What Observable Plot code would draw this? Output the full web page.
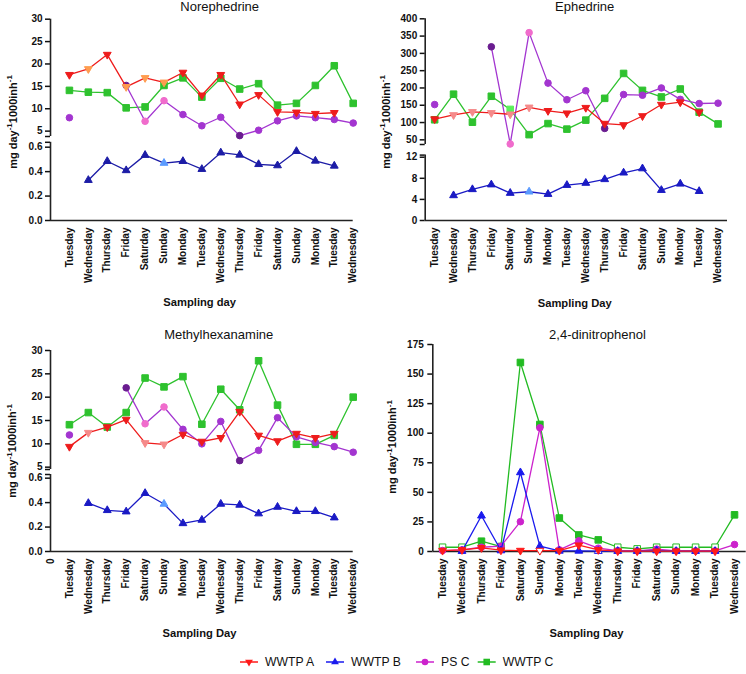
<!DOCTYPE html>
<html><head><meta charset="utf-8">
<script src="https://cdn.jsdelivr.net/npm/d3@7"></script>
<script src="https://cdn.jsdelivr.net/npm/@observablehq/plot@0.6"></script>
<style>
body{margin:0;background:#fff;}
#fig{position:relative;width:746px;height:674px;overflow:hidden;background:#fff;}
#fig svg{position:absolute;left:0;top:0;}
</style></head><body><div id="fig"></div>
<script>
const N = null;
const days = ["Tuesday","Wednesday","Thursday","Friday","Saturday","Sunday","Monday","Tuesday","Wednesday","Thursday","Friday","Saturday","Sunday","Monday","Tuesday","Wednesday"];
const seriesNames = ["WWTP A","WWTP B","PS C","WWTP C"];

// Norephedrine (mg day-1 1000inh-1)
const nor_A   = [17.6,18.9,22.1,14.9,16.9,15.9,18.1,13.0,17.6,11.0,13.1,9.3,9.2,8.9,9.1,N];
const nor_B   = [N,0.33,0.485,0.41,0.535,0.47,0.485,0.42,0.555,0.537,0.46,0.45,0.567,0.488,0.447,N];
const nor_PSC = [8.0,N,N,15.2,7.2,11.8,8.7,6.2,8.1,4.0,5.2,7.3,8.4,8.0,7.6,6.8];
const nor_C   = [14.1,13.7,13.6,10.2,10.4,15.2,16.9,12.6,16.8,14.4,15.6,10.8,11.2,15.2,19.6,11.2];
const nor_topTicks = [5,10,15,20,25,30];
const nor_botTicks = [0,0.2,0.4,0.6];

// Ephedrine
const eph_A   = [110,122,131,128,124,144,134,127,143,97,93,119,152,159,130,N];
const eph_B   = [N,4.75,5.9,6.8,5.2,5.45,5.0,6.7,7.1,7.8,9.05,9.85,5.75,6.95,5.55,N];
const eph_PSC = [152,N,N,319,38,360,214,166,192,83,181,179,200,167,155,156];
const eph_C   = [108,182,101,176,138,65,97,81,107,170,242,193,174,197,130,96];
const eph_topTicks = [50,100,150,200,250,300,350,400];
const eph_botTicks = [0,4,8,12];

// Methylhexanamine
const mhx_A   = [9.4,12.4,13.6,15.2,10.2,9.9,12.0,10.5,11.3,16.9,11.8,10.6,12.2,11.3,12.2,N];
const mhx_B   = [N,0.395,0.337,0.326,0.477,0.389,0.23,0.258,0.389,0.381,0.31,0.364,0.329,0.329,0.277,N];
const mhx_PSC = [11.9,N,N,22.0,14.3,17.9,13.1,10.0,14.8,6.4,8.6,15.6,11.5,10.3,9.4,8.2];
const mhx_C   = [14.1,16.7,13.6,16.7,24.1,22.2,24.4,14.2,21.7,17.3,27.8,18.3,9.9,9.9,11.8,20.0];
const mhx_topTicks = [5,10,15,20,25,30];
const mhx_botTicks = [0,0.2,0.4,0.6];

// 2,4-dinitrophenol
const dnp_A   = [0.8,1.4,3.1,1.1,0.8,0.8,0.8,5.3,1.4,0.3,0.3,0.3,0.3,0.3,0.3,N];
const dnp_B   = [N,0.3,30.2,0.8,66.8,4.5,0.5,0.5,0.3,0.3,0.3,0.8,0.3,0.3,0.3,N];
const dnp_PSC = [0.8,1.4,3.6,4.5,25.2,104.6,1.4,9.0,2.8,0.8,0.5,2.0,0.5,0.5,0.5,5.9];
const dnp_C   = [3.6,3.6,8.7,4.2,159.8,107.4,28.3,14.0,9.8,3.6,2.2,3.6,3.6,3.6,3.6,31.0];
const dnp_ticks = [0,25,50,75,100,125,150,175];

// ---------- styling / layout ----------
const W = 746, H = 674;
const FONT = '"Liberation Sans", Arial, Helvetica, sans-serif';
const AX = "#222";
const COL = {A:"#ee1c1c", B:"#1a1ac4", P:"#a335d0", C:"#2ec22e"};
const SYM = {A:"triangle", B:"triangle", P:"circle", C:"square"};
const R = {A:2.9, B:2.9, P:3.3, C:3.7};
const ORANGE="#ff9c50", SALMON="#f58a8a", PINK="#f06ccc", DARK="#6a1c90", LIGHTB="#5b9bff", LIGHTG="#5cf05c";

const panels = [
  {title:"Norephedrine", xlab:"Sampling day", xDomain:[-1,15], xRange:[50,352.7], xTicks:d3.range(0,16),
   titleXY:[219.7,11], xlabXY:[199.7,306], ylabXY:[16.5,122],
   data:{A:nor_A,B:nor_B,P:nor_PSC,C:nor_C},
   segs:[{yDomain:[3.8,30], yRange:[136,18.7], ticks:nor_topTicks, fmt:d3.format("d"), brk:[3.8], series:["C","P","A"]},
         {yDomain:[0,0.64], yRange:[220,141.8], ticks:nor_botTicks, fmt:d3.format(".1f"), brk:[0.64], series:["B"], xaxis:true}],
   shade:{A:{1:ORANGE,3:ORANGE,4:ORANGE,5:ORANGE}, P:{3:DARK,4:PINK,5:PINK,9:DARK}, B:{5:LIGHTB}}, col:{B:"#1c1ca6"}},
  {title:"Ephedrine", xlab:"Sampling Day", xDomain:[-0.5,15.5], xRange:[424.7,727], xTicks:d3.range(0,16),
   titleXY:[584.7,11], xlabXY:[574.7,307], ylabXY:[389.5,122],
   data:{A:eph_A,B:eph_B,P:eph_PSC,C:eph_C},
   segs:[{yDomain:[36.5,400], yRange:[144,18.3], ticks:eph_topTicks, fmt:d3.format("d"), brk:[36.5], series:["C","P","A"]},
         {yDomain:[0,12.4], yRange:[220,154.6], ticks:eph_botTicks, fmt:d3.format("d"), brk:[12.4], series:["B"], xaxis:true}],
   shade:{A:{1:SALMON,2:SALMON,3:SALMON,4:SALMON,5:SALMON}, P:{3:DARK,4:PINK,5:PINK,9:DARK}, B:{5:LIGHTB}, C:{4:LIGHTG}}, col:{}},
  {title:"Methylhexanamine", xlab:"Sampling Day", xDomain:[-1,15], xRange:[50,352.7], xTicks:d3.range(-1,16), zeroLabel:true,
   titleXY:[218.7,338.6], xlabXY:[199.5,637], ylabXY:[16,451],
   data:{A:mhx_A,B:mhx_B,P:mhx_PSC,C:mhx_C},
   segs:[{yDomain:[4.5,30], yRange:[469,350], ticks:mhx_topTicks, fmt:d3.format("d"), brk:[4.5], series:["C","P","A"]},
         {yDomain:[0,0.63], yRange:[551,474], ticks:mhx_botTicks, fmt:d3.format(".1f"), brk:[0.63], series:["B"], xaxis:true}],
   shade:{A:{1:SALMON,4:SALMON,5:SALMON}, P:{3:DARK,4:PINK,5:PINK,9:DARK}, B:{5:LIGHTB}}, col:{}},
  {title:"2,4-dinitrophenol", xlab:"Sampling Day", xDomain:[-0.5,15.6], xRange:[432.3,745.7], xTicks:d3.range(0,16),
   titleXY:[597.5,338.6], xlabXY:[586.5,637], ylabXY:[396,447],
   data:{A:dnp_A,B:dnp_B,P:dnp_PSC,C:dnp_C},
   segs:[{yDomain:[0,175], yRange:[551,344], ticks:dnp_ticks, fmt:d3.format("d"), brk:[], series:["C","P","B","A"], xaxis:true, pad:4}],
   shade:{}, hollow:{C:[0,1,9,10,11,12,13,14], A:[5], B:[8]}, col:{A:"#ff1a1a", B:"#1a1aee", P:"#cc22cc", C:"#22bb22"}}
];

const fig = document.getElementById("fig");

for (const p of panels) {
  for (const s of p.segs) {
    const marks = [];
    marks.push(Plot.ruleX([p.xDomain[0]], {stroke: AX, strokeWidth: 1.6}));
    if (s.xaxis) marks.push(Plot.ruleY([s.yDomain[0]], {stroke: AX, strokeWidth: 1.6}));
    for (const k of s.series) {
      const color = p.col[k] || COL[k];
      const rows = p.data[k].map((v, i) => ({i, v}));
      const pts = rows.filter(d => d.v != null);
      const sh = (p.shade && p.shade[k]) || {};
      const hol = (p.hollow && p.hollow[k]) || [];
      marks.push(Plot.line(rows, {x: "i", y: "v", stroke: color, strokeWidth: 1.3}));
      marks.push(Plot.dot(pts, {
        x: "i", y: "v", symbol: SYM[k], r: R[k], rotate: k === "A" ? 180 : 0,
        fill: d => hol.includes(d.i) ? "white" : (sh[d.i] || color),
        stroke: d => sh[d.i] || color, strokeWidth: 1
      }));
    }
    const allTicks = s.ticks.concat(s.brk);
    const svg = Plot.plot({
      width: W, height: H,
      marginLeft: p.xRange[0], marginRight: W - p.xRange[1],
      marginTop: s.yRange[1], marginBottom: H - s.yRange[0],
      style: {background: "transparent", overflow: "visible", position: "absolute", left: "0px", top: "0px",
              fontFamily: FONT, fontSize: "10px", fontWeight: "bold", color: "#111", maxWidth: "none"},
      x: s.xaxis ? {domain: p.xDomain, ticks: p.xTicks,
                    tickFormat: i => (i < 0 ? (p.zeroLabel ? "0" : "") : days[i]),
                    tickRotate: -90, tickSize: 0, tickPadding: 7, label: null}
                 : {domain: p.xDomain, axis: null},
      y: {domain: s.yDomain, ticks: allTicks, tickFormat: d => (s.ticks.includes(d) ? s.fmt(d) : ""),
          tickSize: 5, tickPadding: s.pad || 3, label: null},
      marks
    });
    fig.appendChild(svg);
  }
}
d3.select(fig).selectAll("svg [aria-label='y-axis tick'] path, svg [aria-label='y-axis'] path")
  .attr("stroke-width", 1.5);

// ---------- overlay: titles, axis titles, legend ----------
const ov = d3.select(fig).append("svg").attr("width", W).attr("height", H)
  .style("font-family", FONT).style("overflow", "visible");

for (const p of panels) {
  ov.append("text").attr("x", p.titleXY[0]).attr("y", p.titleXY[1]).attr("text-anchor", "middle")
    .attr("font-size", 13).attr("fill", "#111").text(p.title);
  ov.append("text").attr("x", p.xlabXY[0]).attr("y", p.xlabXY[1]).attr("text-anchor", "middle")
    .attr("font-size", 11.2).attr("font-weight", "bold").attr("fill", "#111").text(p.xlab);
  const t = ov.append("text")
    .attr("transform", `translate(${p.ylabXY[0]},${p.ylabXY[1]}) rotate(-90)`)
    .attr("text-anchor", "middle").attr("font-size", 11).attr("font-weight", "bold").attr("fill", "#111");
  t.append("tspan").text("mg day");
  t.append("tspan").attr("dy", -4.5).attr("font-size", 8).text("-1");
  t.append("tspan").attr("dy", 4.5).text("1000inh");
  t.append("tspan").attr("dy", -4.5).attr("font-size", 8).text("-1");
}

// legend
const legKeys = ["A","B","P","C"];
const legX = [249, 335, 425, 486.7];
const legY = 662;
const legCol = {A:"#ff1a1a", B:"#1a1aee", P:"#cc22cc", C:"#22bb22"};
legKeys.forEach((k, j) => {
  const cx = legX[j];
  ov.append("line").attr("x1", cx - 9).attr("x2", cx + 9).attr("y1", legY).attr("y2", legY)
    .attr("stroke", legCol[k]).attr("stroke-width", 1.5);
  const symType = {triangle: d3.symbolTriangle, circle: d3.symbolCircle, square: d3.symbolSquare}[SYM[k]];
  ov.append("path").attr("d", d3.symbol(symType, Math.PI * R[k] * R[k])())
    .attr("transform", `translate(${cx},${legY}) rotate(${k === "A" ? 180 : 0})`)
    .attr("fill", legCol[k]);
  ov.append("text").attr("x", cx + 16).attr("y", legY + 4.3).attr("font-size", 12.2)
    .attr("fill", "#111").text(seriesNames[j]);
});
</script>
</body></html>
